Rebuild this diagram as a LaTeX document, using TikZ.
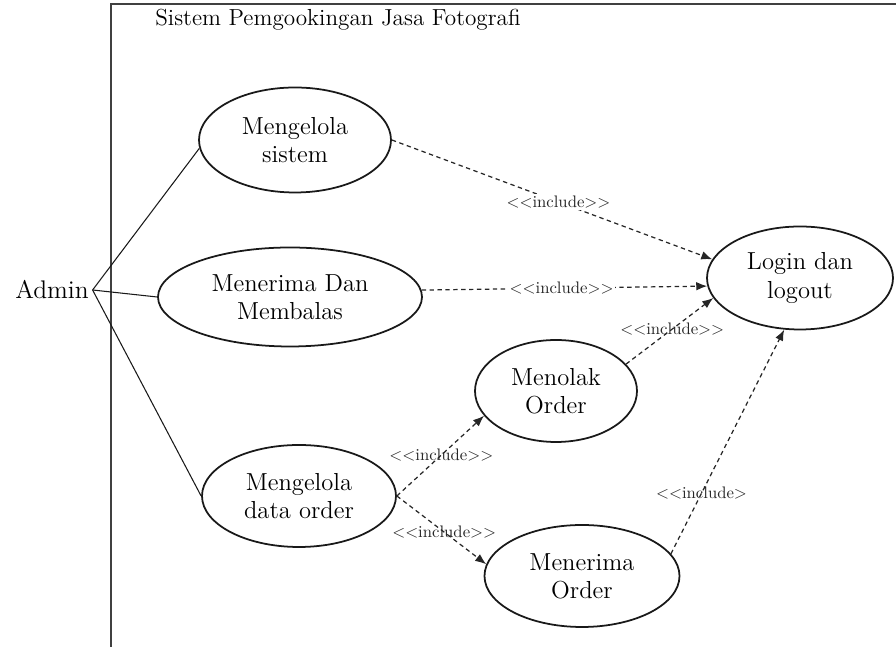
\documentclass[tikz,border=0pt]{standalone}
\usepackage{xcolor}
\usepackage{tikz}
\usetikzlibrary{shapes.geometric, arrows.meta}

\newcommand{\incltext}{<\kern0pt<include>\kern0pt>}

\begin{document}
\begin{tikzpicture}[
    usecase/.style={ellipse, draw=black!90, line width=1pt, inner sep=1pt, align=center, font=\fontsize{14}{16}\selectfont},
    incl/.style={-{Latex[length=2.2mm, width=1.7mm]}, line width=0.7pt, draw=black!85, dash pattern=on 2.5pt off 2pt},
    incllabel/.style={font=\fontsize{9.5}{12}\selectfont, inner sep=1pt, text=black!85},
    assoc/.style={line width=0.6pt, draw=black!90}
  ]
    \useasboundingbox (0, 0) rectangle (17.92, 12.94);
    \draw [line width=1pt, draw=black!75] (2.22, 0) -- (2.22, 12.86) -- (17.92, 12.86);
    \node (title) [font=\fontsize{13.2}{16}\selectfont] at (6.76, 12.54) {Sistem Pemgookingan Jasa Fotografi};
    \node (admin) [font=\fontsize{14.5}{16}\selectfont, inner sep=2pt] at (1.04, 7.14) {Admin};
    \node (sistem) [usecase, minimum width=3.84cm, minimum height=2.10cm] at (5.90, 10.14) {Mengelola\\sistem};
    \node (membalas) [usecase, minimum width=5.28cm, minimum height=1.98cm] at (5.80, 7.00) {Menerima Dan\\Membalas};
    \node (dataorder) [usecase, minimum width=3.88cm, minimum height=2.04cm] at (5.98, 3.02) {Mengelola\\data order};
    \node (login) [usecase, minimum width=3.72cm, minimum height=2.06cm] at (16.00, 7.38) {Login dan\\logout};
    \node (menolak) [usecase, minimum width=3.24cm, minimum height=2.04cm] at (11.12, 5.12) {Menolak\\Order};
    \node (menerima) [usecase, minimum width=3.90cm, minimum height=2.04cm] at (11.64, 1.42) {Menerima\\Order};
    \draw [assoc] (admin.east) -- (sistem.185);
    \draw [assoc] (admin.east) -- (membalas.west);
    \draw [assoc] (admin.east) -- (dataorder.west);
    \draw [incl] (sistem.east) -- node[incllabel, fill=white, pos=0.52] {\incltext} (login.168);
    \draw [incl] (membalas.3) -- node[incllabel, fill=white, pos=0.49] {\incltext} (login.185);
    \draw [incl] (menolak.21) -- node[incllabel, pos=0.53] {\incltext} (login.193);
    \draw [incl] (dataorder.east) -- node[incllabel, pos=0.51] {\incltext} (menolak.199);
    \draw [incl] (dataorder.east) -- node[incllabel, pos=0.53] {\incltext} (menerima.173);
    \draw [incl] (menerima.14) -- node[incllabel, pos=0.27] {<\kern0pt<include>} (login.253);
\end{tikzpicture}
\end{document}
